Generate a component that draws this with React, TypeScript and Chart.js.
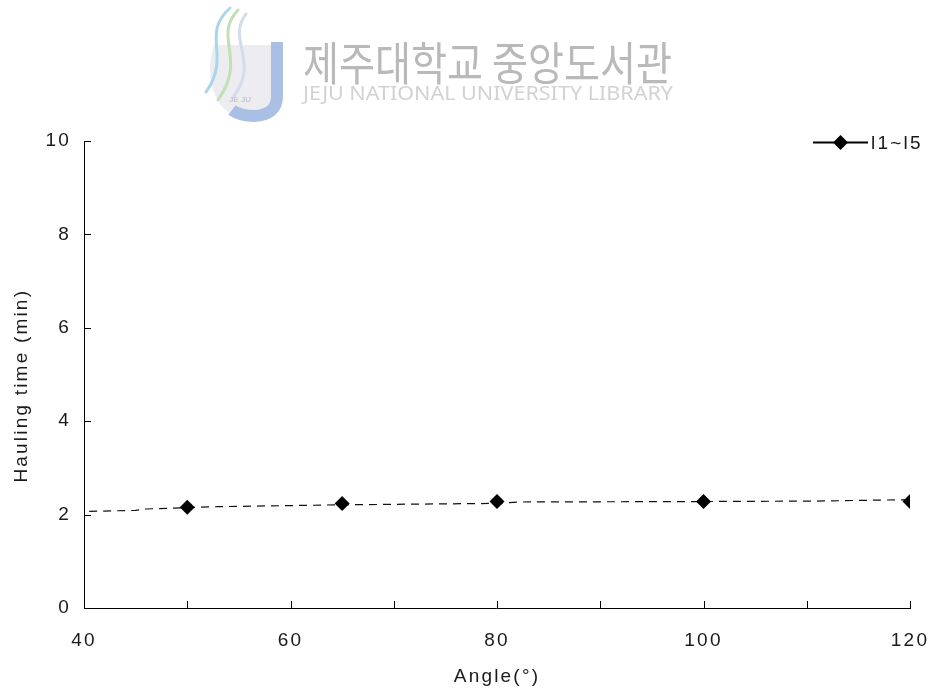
import React, { useEffect, useRef } from 'react';
import { Chart, registerables } from 'chart.js';

Chart.register(...registerables);

// ---- data ----
const markerAngles = [50, 65, 80, 100, 120];
const markerTimes = [2.16, 2.24, 2.28, 2.28, 2.28];
const trendAngles = [40.5, 45, 46, 50, 53, 65, 80, 82, 100, 111, 120];
const trendTimes = [2.07, 2.09, 2.12, 2.15, 2.17, 2.21, 2.24, 2.27, 2.28, 2.29, 2.32];
const seriesLabel = 'l1~l5';
const xTitle = 'Angle(°)';
const yTitle = 'Hauling time (min)';
const xMin = 40;
const xMax = 120;
const xLabelStep = 20;
const xTickStep = 10;
const yMin = 0;
const yMax = 10;
const yStep = 2;
const watermarkKo = '제주대학교 중앙도서관';
const watermarkEn = 'JEJU NATIONAL UNIVERSITY LIBRARY';

const TEXT = '#1a1a1a';
const FONT = '"Liberation Sans", Arial, sans-serif';
const SPACING = '2.2px';
const FS = 19;

function drawWatermark(ctx: CanvasRenderingContext2D) {
  ctx.save();
  (ctx as any).letterSpacing = '0px';
  // logo: grey bowl
  ctx.fillStyle = '#ececf1';
  ctx.beginPath();
  ctx.moveTo(214, 45);
  ctx.bezierCurveTo(205, 70, 210, 118, 250, 119);
  ctx.bezierCurveTo(270, 119, 274, 100, 272, 90);
  ctx.lineTo(272, 45);
  ctx.closePath();
  ctx.fill();
  // swirls
  ctx.lineCap = 'round';
  ctx.lineWidth = 3;
  ctx.strokeStyle = '#a9d6ee';
  ctx.beginPath();
  ctx.moveTo(230, 8);
  ctx.bezierCurveTo(200, 35, 232, 55, 206, 92);
  ctx.stroke();
  ctx.strokeStyle = '#c2e0b4';
  ctx.beginPath();
  ctx.moveTo(238, 10);
  ctx.bezierCurveTo(212, 38, 248, 58, 218, 100);
  ctx.stroke();
  ctx.strokeStyle = '#d5dbe8';
  ctx.beginPath();
  ctx.moveTo(246, 14);
  ctx.bezierCurveTo(226, 40, 260, 60, 234, 96);
  ctx.stroke();
  // J
  ctx.strokeStyle = '#aabfe4';
  ctx.lineWidth = 12;
  ctx.lineCap = 'butt';
  ctx.beginPath();
  ctx.moveTo(277, 42);
  ctx.lineTo(277, 96);
  ctx.quadraticCurveTo(277, 115, 254, 116);
  ctx.quadraticCurveTo(240, 116, 232, 110);
  ctx.stroke();
  ctx.fillStyle = '#c4c7d6';
  ctx.font = 'bold 8px "Liberation Sans", sans-serif';
  ctx.textAlign = 'center';
  ctx.textBaseline = 'middle';
  ctx.fillText('JE JU', 240, 100);
  // Korean title
  ctx.fillStyle = '#b9b9b9';
  ctx.font = '46px "Noto Sans CJK KR", sans-serif';
  ctx.textAlign = 'left';
  ctx.textBaseline = 'alphabetic';
  const w = ctx.measureText(watermarkKo).width;
  ctx.save();
  ctx.translate(303, 80);
  ctx.scale(369 / w, 1);
  ctx.fillText(watermarkKo, 0, 0);
  ctx.restore();
  // English subtitle
  ctx.fillStyle = '#d2d2d2';
  ctx.font = '19px "Noto Sans", sans-serif';
  const we = ctx.measureText(watermarkEn).width;
  ctx.save();
  ctx.translate(303, 100);
  ctx.scale(370 / we, 1);
  ctx.fillText(watermarkEn, 0, 0);
  ctx.restore();
  ctx.restore();
}

const customPlugin = {
  id: 'custom',
  beforeUpdate(chart: any) {
    chart.ctx.letterSpacing = SPACING;
  },
  beforeDraw(chart: any) {
    drawWatermark(chart.ctx);
    chart.ctx.letterSpacing = SPACING;
  },
  afterDraw(chart: any) {
    const ctx: CanvasRenderingContext2D = chart.ctx;
    const ca = chart.chartArea;
    const xs = chart.scales.x;
    const ys = chart.scales.y;
    ctx.save();
    ctx.strokeStyle = '#000';
    ctx.lineWidth = 1;
    ctx.beginPath();
    for (let v = xMin; v <= xMax; v += xTickStep) {
      const px = Math.round(xs.getPixelForValue(v)) + 0.5;
      ctx.moveTo(px, ca.bottom);
      ctx.lineTo(px, ca.bottom - 7);
    }
    for (let v = yMin; v <= yMax; v += yStep) {
      const py = Math.round(ys.getPixelForValue(v)) + 0.5;
      ctx.moveTo(ca.left, py);
      ctx.lineTo(ca.left + 7, py);
    }
    ctx.stroke();

    // legend
    const ly = Math.round(ca.top) + 1.5;
    const x0 = ca.right - 97;
    const x1 = ca.right - 42;
    ctx.lineWidth = 2;
    ctx.beginPath();
    ctx.moveTo(x0, ly);
    ctx.lineTo(x1, ly);
    ctx.stroke();
    const cx = (x0 + x1) / 2;
    const r = 7.5;
    ctx.fillStyle = '#000';
    ctx.beginPath();
    ctx.moveTo(cx, ly - r);
    ctx.lineTo(cx + r, ly);
    ctx.lineTo(cx, ly + r);
    ctx.lineTo(cx - r, ly);
    ctx.closePath();
    ctx.fill();
    (ctx as any).letterSpacing = SPACING;
    ctx.fillStyle = TEXT;
    ctx.font = FS + 'px ' + FONT;
    ctx.textAlign = 'left';
    ctx.textBaseline = 'middle';
    ctx.fillText(seriesLabel, ca.right - 39, ly + 1);
    ctx.restore();
  },
};

export default function App() {
  const ref = useRef<HTMLCanvasElement | null>(null);
  useEffect(() => {
    document.body.style.margin = '0';
    const canvas = ref.current;
    if (!canvas) return;
    const chart = new Chart(canvas, {
      type: 'scatter',
      data: {
        datasets: [
          {
            label: seriesLabel,
            data: markerAngles.map((x, i) => ({ x, y: markerTimes[i] })),
            showLine: false,
            pointStyle: 'rectRot',
            pointRadius: 7.5,
            pointBackgroundColor: '#000',
            pointBorderColor: '#000',
            pointBorderWidth: 0,
            borderColor: '#000',
            backgroundColor: '#000',
          },
          {
            label: 'trend',
            data: trendAngles.map((x, i) => ({ x, y: trendTimes[i] })),
            showLine: true,
            borderColor: '#111',
            borderWidth: 1.2,
            borderDash: [8, 6],
            pointRadius: 0,
            fill: false,
            tension: 0,
          },
        ],
      },
      options: {
        animation: false,
        responsive: false,
        devicePixelRatio: 1,
        layout: { padding: { top: 141, right: 24, left: 0, bottom: 0 } },
        plugins: {
          legend: { display: false },
          tooltip: { enabled: false },
          title: { display: false },
        },
        scales: {
          x: {
            type: 'linear',
            min: xMin,
            max: xMax,
            afterFit: (s: any) => {
              s.height = 83;
              s.paddingLeft = 0;
              s.paddingRight = 0;
            },
            ticks: {
              stepSize: xLabelStep,
              color: TEXT,
              font: { size: FS, family: FONT },
              padding: 21,
              maxRotation: 0,
              autoSkip: false,
            },
            grid: { display: true, drawOnChartArea: false, drawTicks: false },
            border: { display: true, color: '#000', width: 1 },
            title: {
              display: true,
              text: xTitle,
              color: TEXT,
              font: { size: FS, family: FONT },
              padding: { top: 0, bottom: 3 },
            },
          },
          y: {
            type: 'linear',
            min: yMin,
            max: yMax,
            afterFit: (s: any) => {
              s.width = 84;
              s.paddingTop = 0;
              s.paddingBottom = 0;
            },
            ticks: {
              stepSize: yStep,
              color: TEXT,
              font: { size: FS, family: FONT },
              padding: 13,
            },
            grid: { display: true, drawOnChartArea: false, drawTicks: false },
            border: { display: true, color: '#000', width: 1 },
            title: {
              display: true,
              text: yTitle + '   ',
              color: TEXT,
              font: { size: FS, family: FONT },
              padding: { top: 10, bottom: 0 },
            },
          },
        },
      },
      plugins: [customPlugin],
    } as any);
    return () => chart.destroy();
  }, []);
  return (
    <div style={{ width: 934, height: 691, background: '#fff' }}>
      <canvas ref={ref} width={934} height={691} style={{ display: 'block' }} />
    </div>
  );
}
